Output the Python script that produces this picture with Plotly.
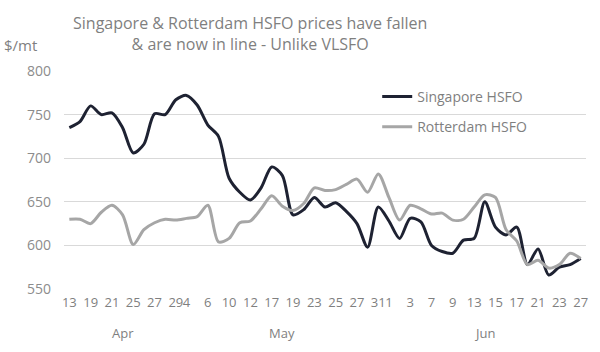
import plotly.graph_objects as go

months = ["Apr", "May", "Jun"]
apr_days = [13, 15, 19, 20, 21, 23, 25, 26, 27, 28, 29]
may_days = [4, 5, 6, 9, 10, 11, 12, 13, 17, 18, 19, 20, 23, 24, 25, 26, 27, 30, 31]
jun_days = [1, 2, 3, 6, 7, 8, 9, 10, 13, 14, 15, 16, 17, 20, 21, 22, 23, 24, 27]
month_days = [apr_days, may_days, jun_days]

singapore_hsfo = [735, 742, 760, 750, 752, 735, 706, 716, 751, 750, 767,
                  772, 761, 738, 725, 677, 661, 652, 666, 690, 680, 635,
                  641, 655, 644, 649, 639, 625, 598, 644, 628, 608, 631,
                  627, 600, 593, 591, 606, 608, 650, 621, 612, 621, 578,
                  596, 566, 575, 578, 585]
rotterdam_hsfo = [630, 630, 625, 638, 646, 635, 601, 618, 626, 630, 629,
                  631, 633, 646, 604, 608, 626, 628, 642, 657, 645, 640,
                  648, 666, 663, 664, 670, 676, 661, 682, 655, 629, 646,
                  642, 636, 637, 629, 630, 644, 658, 655, 618, 605, 578,
                  583, 574, 578, 591, 585]

title_text = "Singapore & Rotterdam HSFO prices have fallen<br>& are now in line - Unlike VLSFO"
unit_text = "$/mt"

# categories
cats = []
tickvals = []
ticktext = []
month_centers = []
for m, days in zip(months, month_days):
    group = [f"{m} {d}" for d in days]
    cats.extend(group)
    for i, d in enumerate(days):
        if i % 2 == 0:
            tickvals.append(group[i])
            ticktext.append(str(d))
    month_centers.append(group[len(group) // 2])

FONT = "Open Sans"
GREY = "#7f7f7f"

L, R, T, B = 64, 12, 71, 63
PW, PH = 600 - L - R, 352 - T - B


def px(x):
    return (x - L) / PW


def py(y):
    return (352 - B - y) / PH


fig = go.Figure()
fig.add_trace(go.Scatter(x=cats, y=singapore_hsfo, name="Singapore HSFO", mode="lines",
                         line=dict(color="#1e2232", width=3, shape="spline", smoothing=0.8),
                         legendgroup="a"))
fig.add_trace(go.Scatter(x=cats, y=rotterdam_hsfo, name="Rotterdam HSFO", mode="lines",
                         line=dict(color="#a6a6a6", width=3, shape="spline", smoothing=0.8),
                         legendgroup="b"))

fig.update_layout(
    width=600, height=352,
    margin=dict(l=L, r=R, t=T, b=B),
    paper_bgcolor="white", plot_bgcolor="white",
    font=dict(family=FONT, color=GREY, size=13),
    legend=dict(x=0.60, y=py(81), xanchor="left", yanchor="top",
                font=dict(family=FONT, size=14, color=GREY),
                bgcolor="rgba(0,0,0,0)", traceorder="grouped", tracegroupgap=9,
                itemwidth=30),
    showlegend=True,
)
fig.update_xaxes(type="category", categoryorder="array", categoryarray=cats,
                 range=[-0.5, len(cats) - 0.5],
                 tickmode="array", tickvals=tickvals, ticktext=ticktext,
                 tickangle=0, showgrid=False, showline=False, ticks="",
                 ticklabelstandoff=4,
                 tickfont=dict(family=FONT, size=13, color=GREY))
fig.update_yaxes(range=[550, 800], dtick=50, showgrid=True, gridcolor="#d9d9d9",
                 gridwidth=1, zeroline=False, showline=False, ticks="",
                 ticklabelstandoff=12,
                 tickfont=dict(family=FONT, size=14, color="#8c8c8c"))

for m, c in zip(months, month_centers):
    fig.add_annotation(x=c, y=py(333), xref="x", yref="paper", text=m, showarrow=False,
                       yanchor="middle", font=dict(family=FONT, size=13, color=GREY))

fig.add_annotation(x=px(251), y=py(33.5), xref="paper", yref="paper", text=title_text,
                   showarrow=False, xanchor="center", yanchor="middle",
                   font=dict(family=FONT, size=16, color=GREY))

fig.add_annotation(x=px(2), y=py(45), xref="paper", yref="paper", text=unit_text,
                   showarrow=False, xanchor="left", yanchor="middle",
                   font=dict(family=FONT, size=15, color=GREY))

fig.write_html("out.html")
